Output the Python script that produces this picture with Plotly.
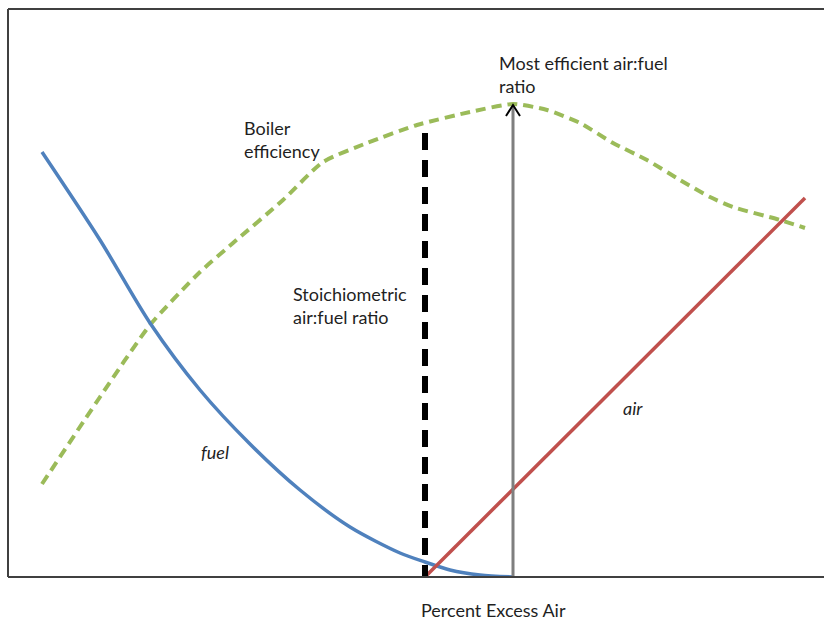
import plotly.graph_objects as go

# Schematic data (x: position along excess-air axis, y: height above axis)
fuel_x = [34, 92, 142, 192, 242, 292, 342, 392, 417, 442, 472, 505]
fuel_y = [425, 337, 254, 187, 133, 87, 50, 24, 15, 7, 2, 0]

eff_x = [34, 92, 142, 192, 225, 275, 315, 359, 409, 462, 505, 539, 572, 605, 639, 672, 702, 725, 772, 797]
eff_y = [93, 180, 252, 305, 334, 377, 415, 434, 452, 465, 473, 467, 454, 434, 417, 397, 380, 370, 357, 349]

air_x = [417, 797]
air_y = [0, 379]

stoich_x = 417
stoich_top = 445
best_x = 505
best_top = 472

XMAX, YMAX = 816, 568
FONT = "Lato"
TXT = "#1f1f1f"

fig = go.Figure()

fig.add_trace(go.Scatter(x=eff_x, y=eff_y, mode="lines",
                         line=dict(color="#9BBB59", width=4, dash="10px,6px", shape="spline", smoothing=0.6),
                         hoverinfo="skip"))
fig.add_trace(go.Scatter(x=fuel_x, y=fuel_y, mode="lines",
                         line=dict(color="#4F81BD", width=3.5, shape="spline", smoothing=0.8),
                         hoverinfo="skip"))
fig.add_trace(go.Scatter(x=air_x, y=air_y, mode="lines",
                         line=dict(color="#C0504D", width=3.5), hoverinfo="skip"))
# stoichiometric dashed vertical line
fig.add_trace(go.Scatter(x=[stoich_x, stoich_x], y=[-5, stoich_top], mode="lines",
                         line=dict(color="black", width=6, dash="17px,10px"),
                         cliponaxis=False, hoverinfo="skip"))
# most efficient arrow stem
fig.add_trace(go.Scatter(x=[best_x, best_x], y=[0, best_top - 2], mode="lines",
                         line=dict(color="#7F7F7F", width=3), hoverinfo="skip"))
# arrow head (open chevron)
fig.add_trace(go.Scatter(x=[best_x - 7, best_x, best_x + 7], y=[best_top - 11, best_top, best_top - 11],
                         mode="lines", line=dict(color="black", width=2), hoverinfo="skip"))

def label(x, y, text, italic=False, size=18):
    fig.add_annotation(x=x, y=y, xref="x", yref="y", text=text, showarrow=False,
                       xanchor="left", yanchor="middle", align="left",
                       font=dict(family=FONT, size=size, color=TXT,
                                 style="italic" if italic else "normal"))

label(489, 503, "Most efficient air:fuel<br>ratio")
label(234, 438, "Boiler<br>efficiency")
label(283, 272, "Stoichiometric<br>air:fuel ratio")
label(191, 125, "fuel", italic=True)
label(613, 169, "air", italic=True)

fig.add_annotation(x=485, y=-33 / YMAX, xref="x", yref="paper", text="Percent Excess Air",
                   showarrow=False, xanchor="center", yanchor="middle",
                   font=dict(family=FONT, size=18, color=TXT))

# frame: left, top, bottom (right side runs off the picture)
frame = dict(color="#404040", width=2)
fig.add_shape(type="line", xref="paper", yref="paper", x0=0, x1=0, y0=0, y1=1, line=frame)
fig.add_shape(type="line", xref="paper", yref="paper", x0=0, x1=1.02, y0=1, y1=1, line=frame)
fig.add_shape(type="line", xref="paper", yref="paper", x0=0, x1=1.02, y0=0, y1=0, line=frame)

fig.update_layout(
    width=824, height=620,
    margin=dict(l=8, r=0, t=9, b=43),
    paper_bgcolor="white", plot_bgcolor="white",
    showlegend=False,
    xaxis=dict(range=[0, XMAX], visible=False, fixedrange=True),
    yaxis=dict(range=[0, YMAX], visible=False, fixedrange=True),
)

fig.write_html("out.html",
               config={"displayModeBar": False},
               post_script="document.body.style.margin='0';document.body.style.overflow='hidden';")
